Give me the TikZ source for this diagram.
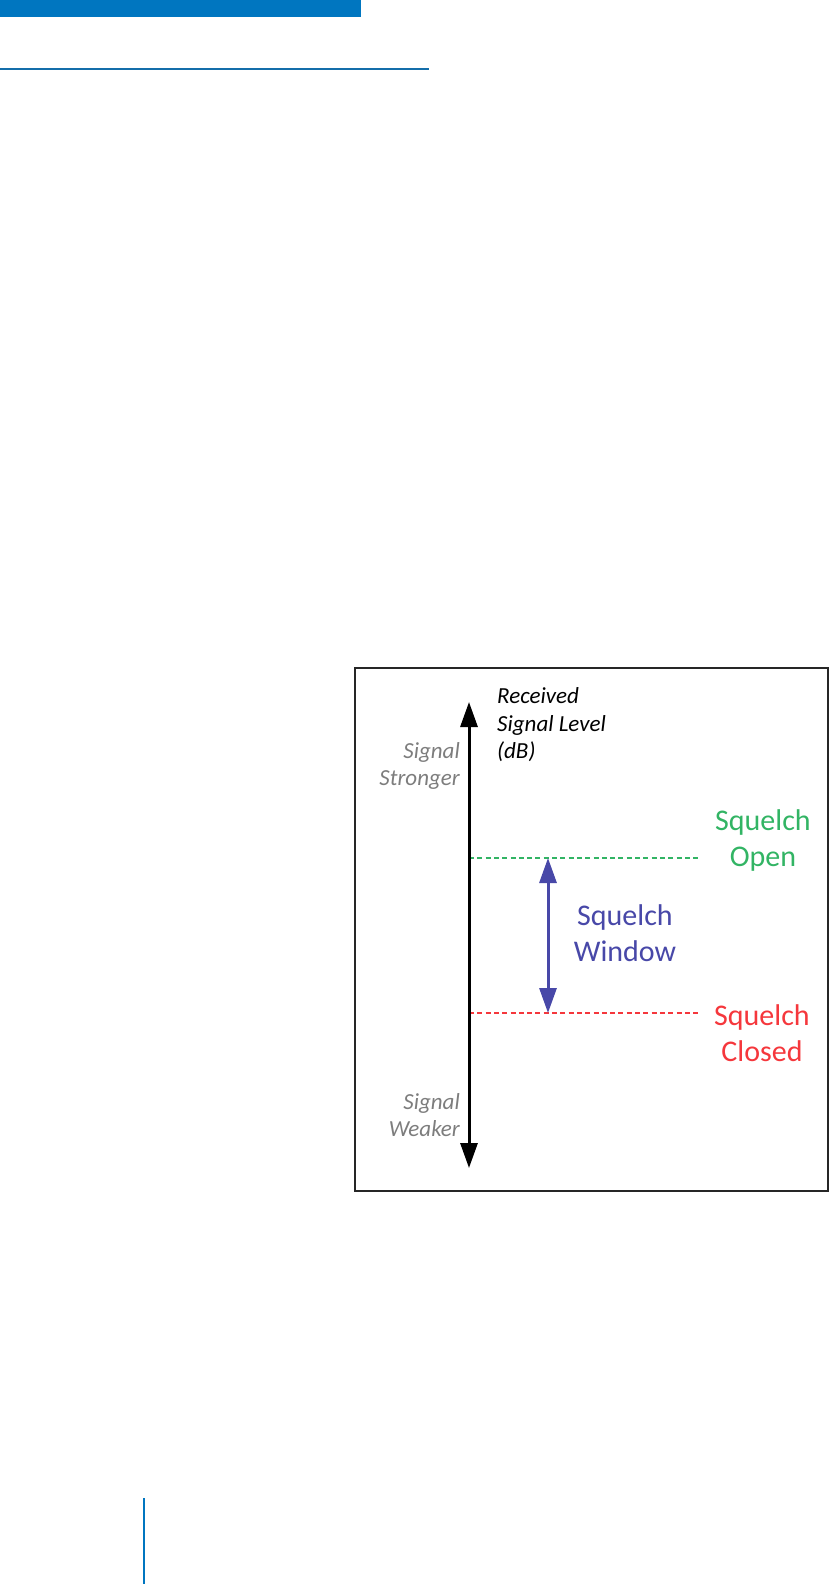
\documentclass[tikz,border=0pt]{standalone}
\usepackage{fontspec}
\setmainfont{Carlito}
\usetikzlibrary{arrows.meta}
\definecolor{hdrblue}{RGB}{0,118,192}
\definecolor{rulblue}{RGB}{20,110,170}
\definecolor{sqgreen}{RGB}{50,180,100}
\definecolor{sqred}{RGB}{245,55,60}
\definecolor{sqblue}{RGB}{72,72,168}
\definecolor{lblgray}{RGB}{125,125,125}
\tikzset{
  bigtip/.tip={Triangle[width=17pt,length=25pt]},
  axisarrow/.style={line width=3pt, black, {bigtip}-{bigtip}},
  winarrow/.style={line width=3pt, sqblue, {bigtip}-{bigtip}},
  threshold/.style={line width=2.6pt, dash pattern=on 5pt off 3.3pt},
  biglabel/.style={inner sep=0pt, align=center, font=\fontsize{30}{36}\selectfont},
  smalllabel/.style={inner sep=0pt, font=\fontsize{23}{27.5}\selectfont\itshape},
}
\begin{document}
\begin{tikzpicture}[x=1pt,y=-1pt]
\useasboundingbox (0,0) rectangle (829,1584);
% page decorations
\fill[hdrblue] (0,0) rectangle (361,17);
\draw[rulblue, line width=2pt] (0,69) -- (429,69);
\draw[hdrblue, line width=2pt] (144,1498) -- (144,1584);
% frame
\draw[line width=1.5pt, black!85] (355,668) rectangle (828,1191);
% axis
\coordinate (axtop) at (469,702);
\coordinate (axbot) at (469,1168);
% thresholds
\coordinate (gl) at (469,858);
\coordinate (gr) at (698,858);
\coordinate (rl) at (469,1013);
\coordinate (rr) at (698,1013);
\draw[threshold, sqgreen] (gl) -- (gr);
\draw[threshold, sqred] (rl) -- (rr);
\draw[axisarrow] (axbot) -- (axtop);
% window arrow
\coordinate (wtop) at (548,858);
\coordinate (wbot) at (548,1013);
\draw[winarrow] (wbot) -- (wtop);
% labels
\node[biglabel, sqblue] (win) at (625,933) {Squelch\\Window};
\node[biglabel, sqgreen] (open) at (763,840) {Squelch\\Open};
\node[biglabel, sqred] (closed) at (762,1033) {Squelch\\Closed};
\node[smalllabel, lblgray, align=right, anchor=east] (strong) at (460,766) {Signal\\Stronger};
\node[smalllabel, lblgray, align=right, anchor=east] (weak) at (460,1115) {Signal\\Weaker};
\node[smalllabel, black, align=left, anchor=west] (rsl) at (497,725) {Received\\Signal Level\\(dB)};
\end{tikzpicture}
\end{document}
